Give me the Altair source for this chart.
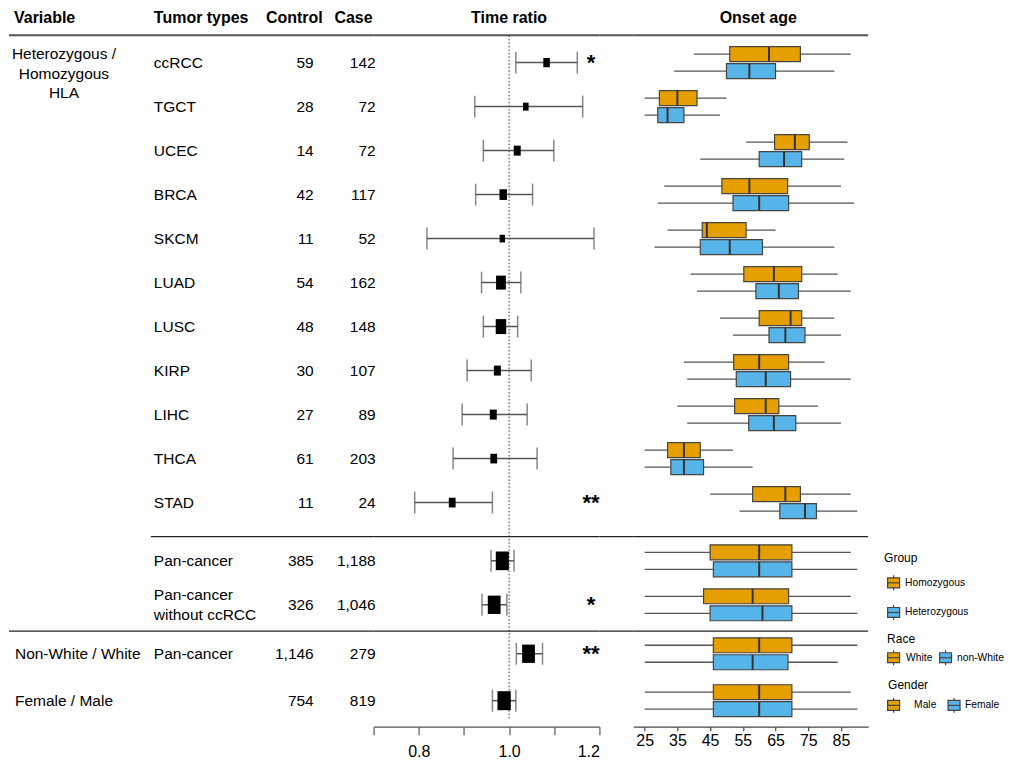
import altair as alt
import pandas as pd

# ------------------------------------------------------------------ data
tumor_types = ["ccRCC", "TGCT", "UCEC", "BRCA", "SKCM", "LUAD", "LUSC", "KIRP",
               "LIHC", "THCA", "STAD", "Pan-cancer", "Pan-cancer\nwithout ccRCC",
               "Pan-cancer", ""]
control_n = [59, 28, 14, 42, 11, 54, 48, 30, 27, 61, 11, 385, 326, 1146, 754]
case_n = [142, 72, 72, 117, 52, 162, 148, 107, 89, 203, 24, 1188, 1046, 279, 819]

tr_est = [1.083, 1.037, 1.018, 0.987, 0.985, 0.982, 0.982, 0.974, 0.965, 0.966,
          0.874, 0.985, 0.967, 1.043, 0.989]
tr_lo = [1.015, 0.924, 0.943, 0.926, 0.818, 0.939, 0.943, 0.907, 0.896, 0.876,
         0.791, 0.960, 0.940, 1.016, 0.963]
tr_hi = [1.151, 1.163, 1.099, 1.052, 1.188, 1.026, 1.019, 1.049, 1.040, 1.062,
         0.963, 1.011, 0.995, 1.074, 1.015]
tr_weight = [9.3, 8.0, 10.0, 10.7, 7.7, 14.0, 15.0, 10.0, 10.0, 9.7, 9.7,
             18.7, 18.3, 18.3, 19.0]
signif = ["*", "", "", "", "", "", "", "", "", "", "**", "", "*", "**", ""]

variable_labels = ["Heterozygous /\nHomozygous\nHLA", "Non-White / White", "Female / Male"]

# onset age box stats (whisker low, q1, median, q3, whisker high)
# first group: Homozygous / White / Male ; second group: Heterozygous / non-White / Female
age_first = [
    (40, 51, 63, 72.6, 88), (25, 29.5, 35, 41, 50), (56, 64.7, 70.9, 75.3, 87),
    (31, 48.6, 57, 68.7, 85), (32, 42.6, 44, 56, 65), (39, 55.3, 64.5, 73, 84),
    (48, 60, 69.6, 73, 83), (37, 52.2, 60, 69, 80), (35, 52.5, 62, 66, 78),
    (25, 32, 37, 42, 52), (45, 58, 68, 72.6, 88), (25, 45, 60, 70, 88),
    (25, 43, 58, 69, 88), (25, 46, 60, 70, 90), (25, 46, 60, 70, 88),
]
age_second = [
    (34, 50, 57, 65, 83), (25, 29, 32, 37, 48), (42, 60, 67.6, 73, 86),
    (29, 52, 60, 69, 89), (28, 42, 51, 61, 83), (41, 59, 66, 72, 88),
    (52, 63, 68, 74, 85), (38, 53, 62, 69.6, 88), (38, 56.8, 64.5, 71.2, 85),
    (25, 33, 37, 43, 58), (54, 66.3, 74, 77.5, 90), (25, 46, 60, 70, 90),
    (25, 45, 61, 70, 90), (25, 46, 58, 68.8, 84), (25, 46, 60, 70, 90),
]

legend_titles = ["Group", "Race", "Gender"]
legend_labels = [["Homozygous", "Heterozygous"], ["White", "non-White"], ["Male", "Female"]]

# ------------------------------------------------------------------ layout
ORANGE, BLUE = "#E69F00", "#56B4E9"
FONT = "Liberation Sans"
H = 719
ROW_PX = 44.04
Y_DOMAIN = [-1.233, 15.093]
row_pos = [0, 1, 2, 3, 4, 5, 6, 7, 8, 9, 10, 11.324, 12.323, 13.436, 14.503]
HEADER_Y, TOPLINE_Y, SEP1_Y, SEP2_Y = -1.006, -0.62, 10.772, 12.92
A_W, F_W, S_W, B_W, L_W = 365, 226, 34, 235, 137
BOX_OFF, BOX_HALF = 0.193, 0.17
LH = 19.5

yscale = alt.Scale(domain=Y_DOMAIN, reverse=True, nice=False, zero=False)


def Yq(field):
    return alt.Y(field, type="quantitative", scale=yscale, axis=None)


def first_line(center, text):
    n = text.count("\n") + 1
    return center - (n - 1) * LH / 2 / ROW_PX


main = pd.DataFrame({
    "row": row_pos, "tumor": tumor_types, "control": control_n, "case": case_n,
    "est": tr_est, "lo": tr_lo, "hi": tr_hi,
    "size": [w * w for w in tr_weight], "sig": signif,
})
main["ty"] = [first_line(r, t) for r, t in zip(row_pos, tumor_types)]


def hrules(w, sep1_start=0):
    top = alt.Chart(pd.DataFrame({"y": [TOPLINE_Y]})).mark_rule(
        color="#555", strokeWidth=2).encode(y=Yq("y"), x=alt.value(0), x2=alt.value(w))
    s1 = alt.Chart(pd.DataFrame({"y": [SEP1_Y]})).mark_rule(
        color="#222", strokeWidth=1.3).encode(y=Yq("y"), x=alt.value(sep1_start), x2=alt.value(w))
    s2 = alt.Chart(pd.DataFrame({"y": [SEP2_Y]})).mark_rule(
        color="#222", strokeWidth=1.3).encode(y=Yq("y"), x=alt.value(0), x2=alt.value(w))
    return [top, s1, s2]


def header(text, x, align):
    return alt.Chart(pd.DataFrame({"t": [text], "y": [HEADER_Y]})).mark_text(
        font=FONT, fontSize=16, fontWeight="bold", align=align, baseline="middle",
        color="#000").encode(x=alt.value(x), y=Yq("y"), text="t:N")


txt = dict(font=FONT, fontSize=15.5, baseline="middle", color="#000")

# ---------------- panel A : table
var_df = pd.DataFrame({"label": variable_labels,
                       "y": [first_line(row_pos[0] + 0.255, variable_labels[0]),
                             row_pos[13], row_pos[14]]})
panel_a = alt.layer(
    *hrules(A_W, sep1_start=142),
    header("Variable", 5, "left"),
    header("Tumor types", 145, "left"),
    header("Control", 314, "right"),
    header("Case", 364, "right"),
    alt.Chart(var_df.iloc[[0]]).mark_text(align="center", lineBreak="\n", lineHeight=LH, **txt)
    .encode(x=alt.value(55), y=Yq("y"), text="label:N"),
    alt.Chart(var_df.iloc[1:]).mark_text(align="left", **txt)
    .encode(x=alt.value(6), y=Yq("y"), text="label:N"),
    alt.Chart(main).mark_text(align="left", lineBreak="\n", lineHeight=LH, **txt)
    .encode(x=alt.value(145), y=Yq("ty"), text="tumor:N"),
    alt.Chart(main).mark_text(align="right", **txt)
    .encode(x=alt.value(305), y=Yq("row"), text=alt.Text("control:Q", format=",")),
    alt.Chart(main).mark_text(align="right", **txt)
    .encode(x=alt.value(367), y=Yq("row"), text=alt.Text("case:Q", format=",")),
).properties(width=A_W, height=H)

# ---------------- panel F : forest plot
fscale = alt.Scale(domain=[0.7, 1.2], nice=False, zero=False)
faxis = alt.Axis(values=[0.7, 0.8, 0.9, 1.0, 1.1, 1.2],
                 labelExpr="(round(datum.value*10) % 2 == 0) ? format(datum.value, '.1f') : ''",
                 tickSize=8, labelPadding=9, domainColor="#555", tickColor="#555",
                 domainWidth=1.2, tickWidth=1.2, labelFont=FONT, labelFontSize=16,
                 labelColor="#000", grid=False, title=None)


def Xf(field):
    return alt.X(field, type="quantitative", scale=fscale, axis=faxis)


ref_df = pd.DataFrame({"x": [1.0], "y1": [TOPLINE_Y], "y2": [14.95]})
panel_f = alt.layer(
    *hrules(F_W),
    alt.Chart(ref_df).mark_rule(color="#333", strokeWidth=1, strokeDash=[1.5, 2])
    .encode(x=Xf("x"), y=Yq("y1"), y2="y2:Q"),
    alt.Chart(main).mark_rule(color="#555", strokeWidth=1.5)
    .encode(x=Xf("lo"), x2="hi:Q", y=Yq("row")),
    alt.Chart(main).transform_fold(["lo", "hi"], as_=["end", "val"])
    .mark_tick(orient="vertical", size=22, thickness=1.5, color="#555")
    .encode(x=Xf("val"), y=Yq("row")),
    alt.Chart(main).mark_point(shape="M-0.7,-1H0.7V1H-0.7Z", filled=True, color="#000",
                               opacity=1, strokeWidth=0)
    .encode(x=Xf("est"), y=Yq("row"), size=alt.Size("size:Q", scale=None)),
    alt.Chart(main).mark_text(font=FONT, fontSize=22, fontWeight="bold", align="center",
                              baseline="middle", dy=0, color="#000")
    .encode(x=alt.value(217.7), y=Yq("row"), text="sig:N"),
    header("Time ratio", 135.6, "center"),
).properties(width=F_W, height=H)

# ---------------- panel S : spacer
panel_s = alt.layer(*hrules(S_W)).properties(width=S_W, height=H)

# ---------------- panel B : onset age boxplots
recs = []
for i, r in enumerate(row_pos):
    for grp, stats, off in (("a", age_first[i], -BOX_OFF), ("b", age_second[i], BOX_OFF)):
        lo, q1, med, q3, hi = stats
        recs.append({"grp": grp, "lo": lo, "q1": q1, "med": med, "q3": q3, "hi": hi,
                     "y": r + off, "yt": r + off - BOX_HALF, "yb": r + off + BOX_HALF})
box_df = pd.DataFrame(recs)

bscale = alt.Scale(domain=[21.55, 93.3], nice=False, zero=False)
baxis = alt.Axis(values=[25, 35, 45, 55, 65, 75, 85], tickSize=4, labelPadding=2,
                 domainColor="#444", tickColor="#444", domainWidth=1.2, tickWidth=1.2,
                 labelFont=FONT, labelFontSize=16, labelColor="#000", grid=False, title=None)


def Xb(field):
    return alt.X(field, type="quantitative", scale=bscale, axis=baxis)


panel_b = alt.layer(
    *hrules(B_W),
    alt.Chart(box_df).mark_rule(color="#555", strokeWidth=1.3)
    .encode(x=Xb("lo"), x2="hi:Q", y=Yq("y")),
    alt.Chart(box_df).mark_rect(stroke="#444", strokeWidth=1.2)
    .encode(x=Xb("q1"), x2="q3:Q", y=Yq("yt"), y2="yb:Q",
            color=alt.Color("grp:N", scale=alt.Scale(domain=["a", "b"], range=[ORANGE, BLUE]),
                            legend=None)),
    alt.Chart(box_df).mark_rule(color="#333", strokeWidth=2)
    .encode(x=Xb("med"), y=Yq("yt"), y2="yb:Q"),
    header("Onset age", 125, "center"),
).properties(width=B_W, height=H)

# ---------------- panel L : manual legend (kept inside the page width)
title_pos = [(16, 550), (19, 631), (20, 677.7)]
key_pos = [[(25.5, 575, 37), (25.5, 604.7, 37)],
           [(25.5, 650, 38), (77.5, 650, 89)],
           [(25.5, 697.7, 46), (86, 697.7, 97)]]
t_rows, k_rows = [], []
for gi, title in enumerate(legend_titles):
    t_rows.append({"x": title_pos[gi][0], "y": title_pos[gi][1], "t": title})
    for ki, lab in enumerate(legend_labels[gi]):
        kx, ky, tx = key_pos[gi][ki]
        k_rows.append({"x": kx, "y": ky, "tx": tx, "t": lab, "c": ORANGE if ki == 0 else BLUE,
                       "x0": kx - 6, "x1": kx + 6, "y0": ky - 5, "y1": ky + 5,
                       "w0": ky - 7.5, "w1": ky + 7.5})
lt_df, lk_df = pd.DataFrame(t_rows), pd.DataFrame(k_rows)


def P(field, ch):
    return ch(field, type="quantitative", scale=None, axis=None)


panel_l = alt.layer(
    alt.Chart(lt_df).mark_text(font=FONT, fontSize=12, align="left", baseline="middle", color="#000")
    .encode(x=P("x", alt.X), y=P("y", alt.Y), text="t:N"),
    alt.Chart(lk_df).mark_rule(color="#444", strokeWidth=1.2)
    .encode(x=P("x", alt.X), y=P("w0", alt.Y), y2="w1:Q"),
    alt.Chart(lk_df).mark_rect(stroke="#444", strokeWidth=1.2)
    .encode(x=P("x0", alt.X), x2="x1:Q", y=P("y0", alt.Y), y2="y1:Q",
            fill=alt.Fill("c:N", scale=None)),
    alt.Chart(lk_df).mark_rule(color="#444", strokeWidth=1.2)
    .encode(x=P("x0", alt.X), x2="x1:Q", y=P("y", alt.Y)),
    alt.Chart(lk_df).mark_text(font=FONT, fontSize=10.3, align="left", baseline="middle", color="#000")
    .encode(x=P("tx", alt.X), y=P("y", alt.Y), text="t:N"),
).properties(width=L_W, height=H)

chart = alt.hconcat(panel_a, panel_f, panel_s, panel_b, panel_l, spacing=0, bounds="flush",
                    padding=0).configure_view(stroke=None)

chart.save("out.html", embed_options={"renderer": "svg", "actions": False})
